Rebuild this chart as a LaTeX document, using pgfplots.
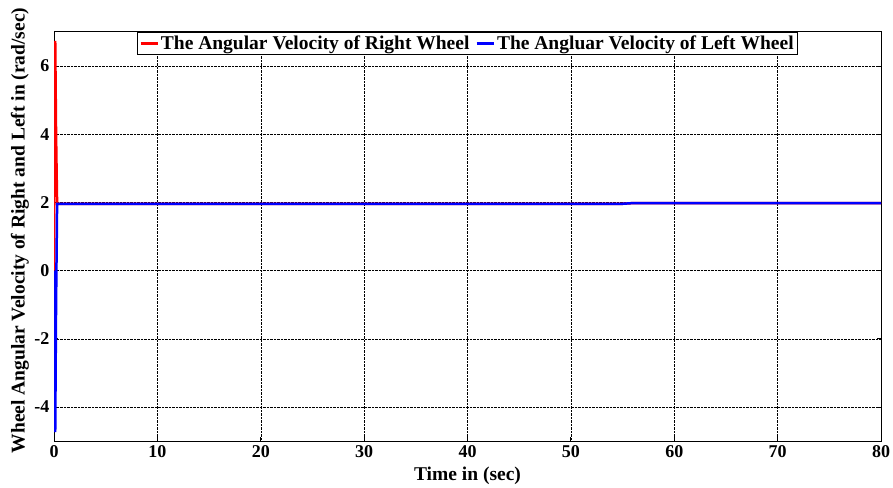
\documentclass[border=0pt]{standalone}
\usepackage{pgfplots}
\pgfplotsset{compat=1.18}
\usepackage{fontspec}
\setmainfont{Liberation Serif}
\begin{document}
\begin{tikzpicture}
\begin{axis}[
  scale only axis, width=827pt, height=409pt,
  xmin=0, xmax=80, ymin=-5, ymax=7,
  xtick={0,10,...,80}, ytick={-4,-2,...,6},
  grid=major, grid style={black, densely dotted, line width=0.5pt},
  axis line style={black, line width=1pt},
  tick style={black, line width=0.8pt},
  tick align=inside,
  /pgf/number format/assume math mode=true,
  ticklabel style={font=\fontsize{18}{20}\selectfont\bfseries},
  xticklabel style={yshift=-1pt},
  yticklabel style={xshift=-1pt},
  xlabel={Time in (sec)},
  ylabel={Wheel Angular Velocity of Right and Left in (rad/sec)},
  label style={font=\fontsize{19.5}{21}\selectfont\bfseries},
  xlabel style={at={(axis description cs:0.5,0)}, anchor=center, yshift=-35pt},
  ylabel style={at={(axis description cs:0,0.5)}, anchor=center, yshift=34pt, xshift=6pt},
  legend columns=2,
  legend style={at={(0.5,1)}, anchor=north, draw=black, line width=0.8pt,
    font=\fontsize{19.5}{21}\selectfont\bfseries, inner sep=1.5pt,
    /tikz/every even column/.append style={column sep=4pt}},
  legend image post style={line width=2.5pt},
  legend cell align=left,
]
\addplot[red, line width=2.5pt] coordinates {
 (0,0) (0.05,6.7) (0.12,6.7) (0.2,4.0) (0.3,1.96) (1,1.96) (10,1.96) (20,1.96) (30,1.96) (40,1.96) (50,1.96) (55,1.96) (56,1.98) (60,1.98) (70,1.98) (80,1.98)};
\addlegendentry{The Angular Velocity of Right Wheel}
\addplot[blue, line width=2.5pt] coordinates {
 (0,0) (0.05,-4.7) (0.12,-4.7) (0.2,-1.0) (0.3,1.96) (1,1.96) (10,1.96) (20,1.96) (30,1.96) (40,1.96) (50,1.96) (55,1.96) (56,1.98) (60,1.98) (70,1.98) (80,1.98)};
\addlegendentry{The Angluar Velocity of Left Wheel}
\end{axis}
\pgfresetboundingbox
\useasboundingbox ([shift={(-54pt,-46pt)}]current axis.south west) rectangle ([shift={(12pt,32pt)}]current axis.north east);
\end{tikzpicture}
\end{document}
